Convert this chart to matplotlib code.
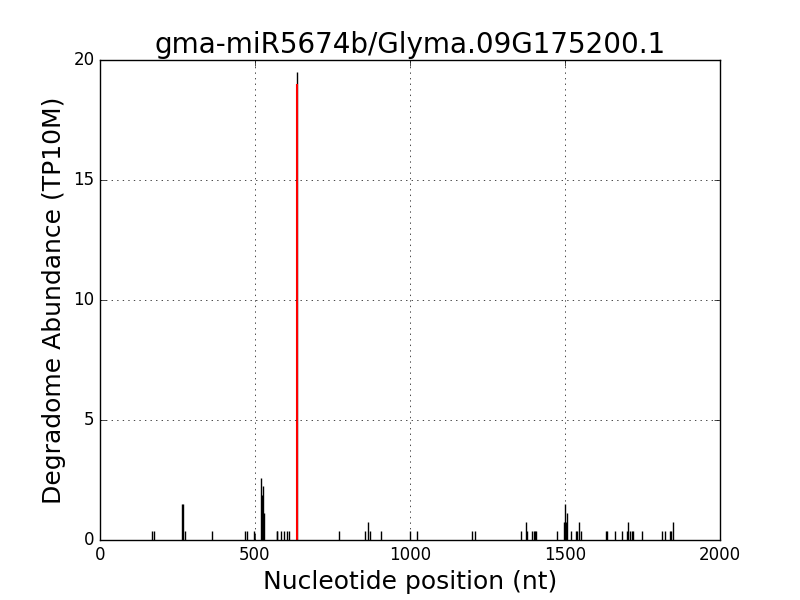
import matplotlib
matplotlib.use("Agg")
import matplotlib.pyplot as plt

plt.style.use("classic")

positions = [169, 174, 265, 267, 273, 361, 469, 473, 498, 519, 522, 524, 527, 529,
             570, 572, 585, 594, 602, 609, 637,
             772, 856, 866, 871, 908, 1001, 1024, 1201, 1211,
             1359, 1375, 1379, 1395, 1399, 1404, 1408, 1475, 1497, 1501, 1504, 1507,
             1520, 1535, 1540, 1546, 1551, 1633, 1636, 1660, 1685, 1700, 1704, 1710,
             1716, 1720, 1747, 1814, 1821, 1839, 1843, 1849]
abundance = [0.37, 0.37, 1.49, 1.49, 0.37, 0.37, 0.37, 0.37, 0.37, 2.6, 1.86, 1.12, 2.23, 1.12,
             0.37, 0.37, 0.37, 0.37, 0.37, 0.37, 19.5,
             0.37, 0.37, 0.74, 0.37, 0.37, 0.37, 0.37, 0.37, 0.37,
             0.37, 0.74, 0.37, 0.37, 0.37, 0.37, 0.37, 0.37, 0.74, 1.49, 0.74, 1.12,
             0.37, 0.37, 0.37, 0.74, 0.37, 0.37, 0.37, 0.37, 0.37, 0.37, 0.74, 0.37,
             0.37, 0.37, 0.37, 0.37, 0.37, 0.37, 0.37, 0.74]
target_position = 637
target_abundance = 19.0

fig = plt.figure(figsize=(8, 6), dpi=100)
ax = fig.add_subplot(111)
ax.vlines(positions, 0, abundance, colors="black", linewidth=1)
ax.vlines([target_position], 0, [target_abundance], colors="red", linewidth=1.5)
ax.set_xlim(0, 2000)
ax.set_ylim(0, 20)
ax.set_xticks([0, 500, 1000, 1500, 2000])
ax.set_yticks([0, 5, 10, 15, 20])
ax.grid(True)
ax.set_title("gma-miR5674b/Glyma.09G175200.1", fontsize=20)
ax.set_xlabel("Nucleotide position (nt)", fontsize=18)
ax.set_ylabel("Degradome Abundance (TP10M)", fontsize=18)
fig.savefig("out.png", dpi=100)
